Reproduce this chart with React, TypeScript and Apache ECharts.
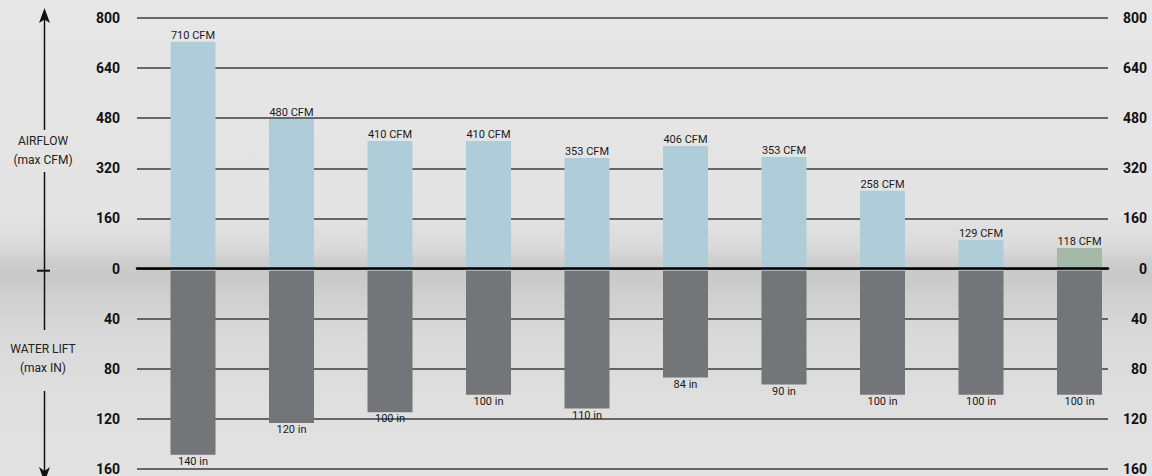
import React, { useEffect, useRef } from 'react';
import * as echarts from 'echarts';

// ---- data ----
const categories = ['Model 1', 'Model 2', 'Model 3', 'Model 4', 'Model 5', 'Model 6', 'Model 7', 'Model 8', 'Model 9', 'Model 10'];
// bar heights as drawn (CFM)
const airflowCfm = [725, 480, 411, 411, 357, 395, 360, 253, 97, 72];
const airflowLabels = ['710 CFM', '480 CFM', '410 CFM', '410 CFM', '353 CFM', '406 CFM', '353 CFM', '258 CFM', '129 CFM', '118 CFM'];
// bar depths as drawn (inches)
const waterLiftIn = [145.5, 120.5, 112, 98, 109, 84.5, 90, 98, 98, 98];
const waterLiftLabels = ['140 in', '120 in', '100 in', '100 in', '110 in', '84 in', '90 in', '100 in', '100 in', '100 in'];
// axis: CFM above zero, inches below zero (1 in = 4 CFM units on the shared scale)
const cfmMax = 800;
const inMax = 160;
const tickStep = 160;
const inchScale = 4;

const FONT = 'Roboto, "Noto Sans", sans-serif';

export default function App() {
  const ref = useRef<HTMLDivElement>(null);

  useEffect(() => {
    if (!ref.current) return;
    const chart = echarts.init(ref.current, null, { renderer: 'svg' });
    const fmt = (v: number) => (v >= 0 ? String(v) : String(-v / inchScale));
    const axisLabel = {
      formatter: fmt,
      fontWeight: 'bold' as const,
      fontSize: 14,
      color: '#111',
      fontFamily: FONT,
    };
    const yMin = -inMax * inchScale;
    const lastIdx = categories.length - 1;
    const textStyle = { fill: '#222', font: '12px ' + FONT, align: 'center', verticalAlign: 'middle', textAlign: 'center', textVerticalAlign: 'middle' };

    const option: any = {
      animation: false,
      backgroundColor: 'transparent',
      grid: [
        { left: 137, right: 44, top: 18, bottom: 3 },
        { left: 143.75, right: 23.25, top: 18, bottom: 3 },
      ],
      xAxis: [
        {
          gridIndex: 0,
          type: 'value',
          min: 0,
          max: 1,
          z: 10,
          axisLine: { show: true, onZero: true, lineStyle: { color: '#000', width: 2.5 } },
          axisTick: { show: false },
          axisLabel: { show: false },
          splitLine: { show: false },
        },
        { gridIndex: 1, type: 'category', data: categories, show: false },
      ],
      yAxis: [
        {
          gridIndex: 0,
          type: 'value',
          min: yMin,
          max: cfmMax,
          interval: tickStep,
          position: 'left',
          axisLine: { show: false },
          axisTick: { show: false },
          axisLabel: { ...axisLabel, margin: 17 },
          splitLine: { show: true, lineStyle: { color: '#3c3c3c', width: 1.5 } },
        },
        {
          gridIndex: 0,
          type: 'value',
          min: yMin,
          max: cfmMax,
          interval: tickStep,
          position: 'right',
          axisLine: { show: false },
          axisTick: { show: false },
          axisLabel: { ...axisLabel, margin: 39, align: 'right' },
          splitLine: { show: false },
        },
        { gridIndex: 1, type: 'value', min: yMin, max: cfmMax, interval: tickStep, show: false },
      ],
      series: [
        {
          type: 'bar',
          name: 'Airflow',
          xAxisIndex: 1,
          yAxisIndex: 2,
          barWidth: 45,
          barGap: '-100%',
          data: airflowCfm,
          itemStyle: {
            color: (p: any) => (p.dataIndex === lastIdx ? '#a3b8a7' : '#aecdd8'),
          },
          label: {
            show: true,
            position: 'top',
            distance: 1,
            formatter: (p: any) => airflowLabels[p.dataIndex],
            fontSize: 11,
            color: '#1a1a1a',
            fontFamily: FONT,
          },
        },
        {
          type: 'bar',
          name: 'Water lift',
          xAxisIndex: 1,
          yAxisIndex: 2,
          barWidth: 45,
          barGap: '-100%',
          data: waterLiftIn.map((v) => -v * inchScale),
          itemStyle: { color: '#747579' },
          label: {
            show: true,
            position: 'bottom',
            distance: 1,
            formatter: (p: any) => waterLiftLabels[p.dataIndex],
            fontSize: 11,
            color: '#1a1a1a',
            fontFamily: FONT,
          },
        },
      ],
      graphic: [
        { type: 'line', shape: { x1: 44.5, y1: 16, x2: 44.5, y2: 130 }, style: { stroke: '#111', lineWidth: 1.5 } },
        { type: 'polygon', shape: { points: [[44.5, 8], [50, 23], [44.5, 19.5], [39, 23]] }, style: { fill: '#111' } },
        { type: 'text', x: 43, y: 141, style: { ...textStyle, text: 'AIRFLOW' } },
        { type: 'text', x: 43, y: 160, style: { ...textStyle, text: '(max CFM)' } },
        { type: 'line', shape: { x1: 44.5, y1: 172, x2: 44.5, y2: 330 }, style: { stroke: '#111', lineWidth: 1.5 } },
        { type: 'line', shape: { x1: 37, y1: 270.7, x2: 50, y2: 270.7 }, style: { stroke: '#111', lineWidth: 2 } },
        { type: 'text', x: 43, y: 349, style: { ...textStyle, text: 'WATER LIFT' } },
        { type: 'text', x: 43, y: 368, style: { ...textStyle, text: '(max IN)' } },
        { type: 'line', shape: { x1: 44.5, y1: 391, x2: 44.5, y2: 474 }, style: { stroke: '#111', lineWidth: 1.5 } },
        { type: 'polygon', shape: { points: [[39, 467], [44.5, 471], [50, 467], [44.5, 482]] }, style: { fill: '#111' } },
      ],
    };
    chart.setOption(option);
    return () => chart.dispose();
  }, []);

  return (
    <div
      ref={ref}
      style={{
        position: 'fixed',
        left: 0,
        top: 0,
        width: 1152,
        height: 476,
        background:
          'linear-gradient(to bottom, #e7e7e7 0%, #e3e3e3 45%, #dadada 52%, #cdcdcd 55%, #c9c9c9 58%, #cfcfcf 62%, #d9d9d9 70%, #dfdfdf 85%, #e2e2e2 100%)',
      }}
    />
  );
}
